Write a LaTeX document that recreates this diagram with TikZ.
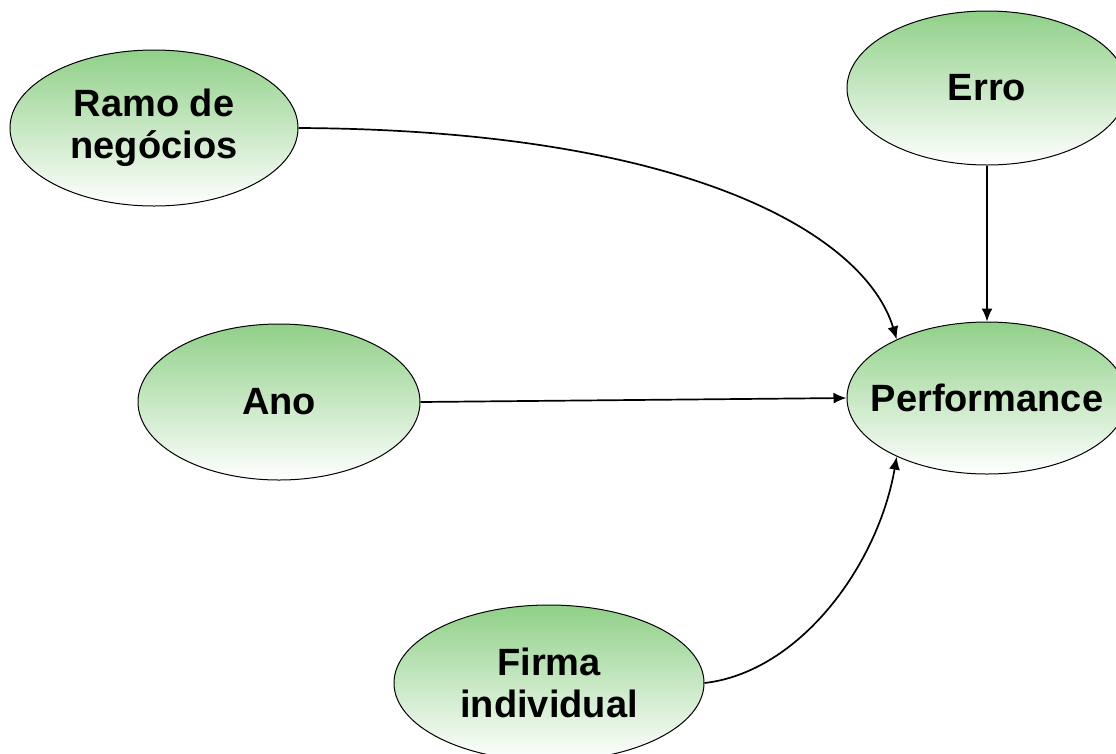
\documentclass[tikz,border=0pt]{standalone}
\usepackage{fontspec}
\setmainfont{Liberation Sans}
\usetikzlibrary{shapes.geometric,arrows.meta}

\definecolor{ovalgreen}{RGB}{144,208,136}

\begin{document}
\begin{tikzpicture}[x=1pt,y=-1pt,
    oval/.style={ellipse,draw=black,line width=1pt,inner sep=0pt,
        top color=ovalgreen,bottom color=white},
    lbl/.style={align=center,font=\fontsize{38}{42}\selectfont\bfseries},
    arr/.style={line width=1.7pt,-{Latex[length=13pt,width=11pt]}}]
% Page frame
\clip (0,0) rectangle (1116,753);

% Ovals
\node[oval,minimum width=288,minimum height=156] (ramo) at (154,128) {};
\node[oval,minimum width=280,minimum height=154] (erro) at (987,88) {};
\node[oval,minimum width=282,minimum height=156] (ano) at (279,402) {};
\node[oval,minimum width=280,minimum height=152] (perf) at (987,398) {};
\node[oval,minimum width=310,minimum height=156] (firma) at (549,683) {};

% Labels
\node[lbl] (ramoText) at (ramo) {Ramo de\\negócios};
\node[lbl] (erroText) at (erro) {Erro};
\node[lbl] (anoText) at (ano) {Ano};
\node[lbl] (perfText) at (perf) {Performance};
\node[lbl] (firmaText) at (firma) {Firma\\individual};

% Arrows
\draw[arr] (ramo.east) .. controls (690,130) and (865,235) .. (perf.147);
\draw[arr] (erro.south) -- (perf.north);
\draw[arr] (ano.east) -- (perf.west);
\draw[arr] (firma.east) .. controls (800,672) and (878,565) .. (perf.213);
\end{tikzpicture}
\end{document}
